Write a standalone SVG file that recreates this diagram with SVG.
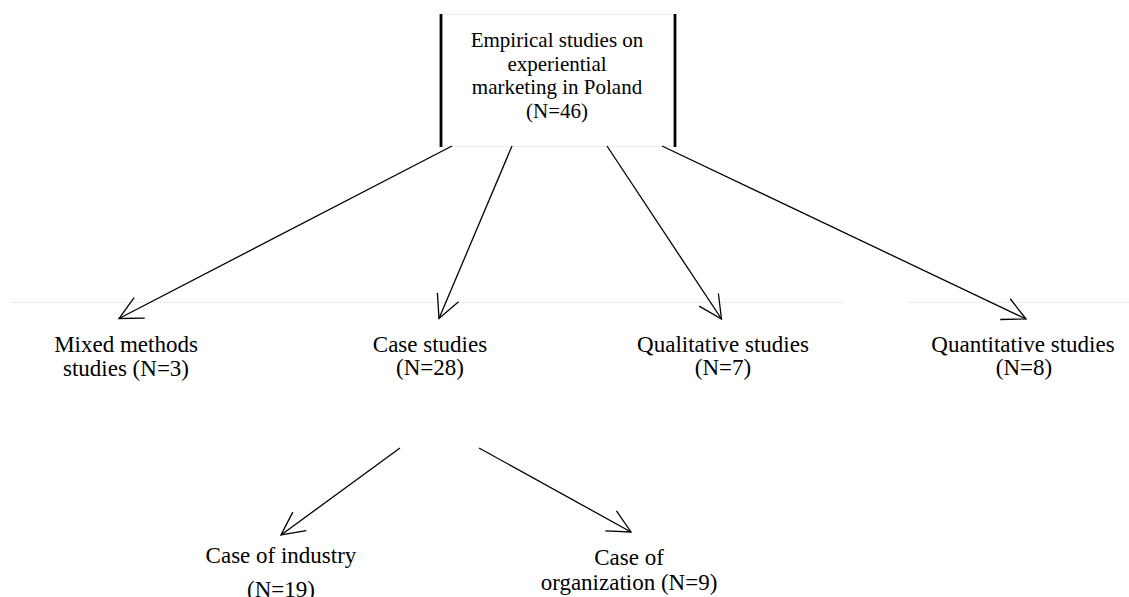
<svg xmlns="http://www.w3.org/2000/svg" width="1129" height="597" viewBox="0 0 1129 597">
<style>
  text { font-family: "Liberation Serif", "Times New Roman", serif; fill: #000; text-anchor: middle; }
  .box { font-size: 21px; }
  .lbl { font-size: 23px; }
  .conn { stroke: #000; stroke-width: 1.3; fill: none; marker-end: url(#arr); }
  .faint { stroke: #ececec; stroke-width: 1.2; fill: none; }
  .bar { stroke: #000; stroke-width: 2.8; }
</style>
<defs>
  <marker id="arr" markerUnits="userSpaceOnUse" markerWidth="28" markerHeight="28" refX="24" refY="12" orient="auto" overflow="visible">
    <path d="M1,0.5 L24,12 L1,23.5" fill="none" stroke="#000" stroke-width="1.3"/>
  </marker>
</defs>
<rect width="1129" height="597" fill="#fff"/>
<g id="guides">
  <line class="faint" x1="10" y1="302.5" x2="843" y2="302.5"/>
  <line class="faint" x1="908" y1="302.5" x2="1129" y2="302.5"/>
</g>
<g id="root">
  <line class="faint" x1="441" y1="14.5" x2="674" y2="14.5"/>
  <line class="faint" x1="441" y1="146.5" x2="674" y2="146.5"/>
  <line class="bar" x1="441" y1="14" x2="441" y2="147"/>
  <line class="bar" x1="675" y1="14" x2="675" y2="147"/>
  <text class="box" x="557" y="47">Empirical studies on</text>
  <text class="box" x="557" y="70.5">experiential</text>
  <text class="box" x="557" y="94">marketing in Poland</text>
  <text class="box" x="557" y="117.5">(N=46)</text>
</g>
<g id="mixed">
  <text class="lbl" x="126" y="352">Mixed methods</text>
  <text class="lbl" x="126" y="376">studies (N=3)</text>
</g>
<g id="case">
  <text class="lbl" x="430" y="352">Case studies</text>
  <text class="lbl" x="430" y="375">(N=28)</text>
</g>
<g id="qualitative">
  <text class="lbl" x="723" y="352">Qualitative studies</text>
  <text class="lbl" x="723" y="375">(N=7)</text>
</g>
<g id="quantitative">
  <text class="lbl" x="1023" y="352">Quantitative studies</text>
  <text class="lbl" x="1024" y="375">(N=8)</text>
</g>
<g id="industry">
  <text class="lbl" x="281" y="563">Case of industry</text>
  <text class="lbl" x="281" y="597">(N=19)</text>
</g>
<g id="organization">
  <text class="lbl" x="629" y="565">Case of</text>
  <text class="lbl" x="629" y="590">organization (N=9)</text>
</g>
<g id="connectors">
  <line class="conn" x1="452" y1="146" x2="119" y2="318.5"/>
  <line class="conn" x1="512" y1="146" x2="439" y2="318.5"/>
  <line class="conn" x1="607" y1="146" x2="721.5" y2="319"/>
  <line class="conn" x1="662" y1="146" x2="1026" y2="319"/>
  <line class="conn" x1="400" y1="448" x2="281" y2="535"/>
  <line class="conn" x1="479" y1="448" x2="631" y2="532"/>
</g>
</svg>
